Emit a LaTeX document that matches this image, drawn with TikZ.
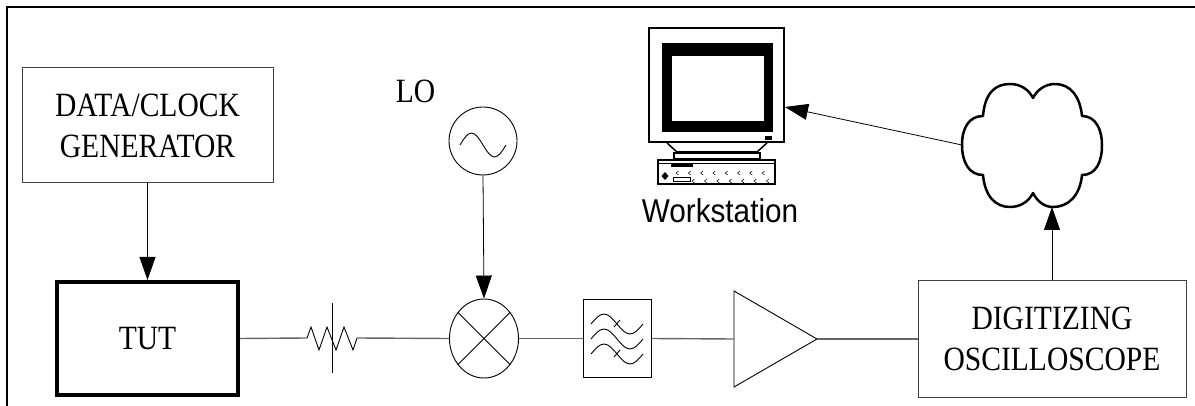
\documentclass[tikz,border=0pt]{standalone}
\usepackage{fontspec}
\setmainfont{Liberation Serif}[FakeStretch=0.87]
\newfontfamily\wsfont{Liberation Sans}[FakeStretch=0.9]
\usetikzlibrary{arrows.meta,shapes.geometric}

\newcommand\lblfont{\fontsize{34}{41}\selectfont}

\begin{document}
\begin{tikzpicture}[x=1pt,y=-1pt,
  box/.style={draw=black!75, line width=1pt, inner sep=0pt, align=center, font=\lblfont},
  wire/.style={draw=black!60, line width=1.4pt},
  part/.style={draw=black, line width=0.9pt},
  arr/.style={draw=black, line width=0.8pt, -{Triangle[length=23pt,width=16pt]}},
  cloudline/.style={draw=black, line width=2.5pt, line join=round}]
\useasboundingbox (0,0) rectangle (1195,406);

% outer frame (top and left edges only)
\draw[line width=2.5pt, line join=miter] (7,406) -- (7,7) -- (1195,7);

% signal source and device under test
\node[box, minimum width=251pt, minimum height=115pt] (gen) at (147.5,125.5) {DATA/CLOCK\\GENERATOR};
\node[box, draw=black, line width=4pt, minimum width=181pt, minimum height=113pt] (tut) at (147.5,338.5) {TUT};
\draw[arr] (gen.south) -- (tut.north);

% variable attenuator
\coordinate (res-in) at (307,338);
\coordinate (res-out) at (357,338);
\draw[part, line join=miter] (res-in) -- (311,327) -- (319,350) -- (327,327) -- (336,350)
  -- (344,327) -- (353,350) -- (res-out);
\draw[part] (332,303) -- (332,373);

% local oscillator and mixer
\node[anchor=base, font=\lblfont] (lolbl) at (415.5,103) {LO};
\node[circle, part, minimum size=68pt, inner sep=0pt] (lo) at (483,141) {};
\draw[part] (460,145) sin (471.5,133) cos (483,145) sin (494.5,157) cos (506,145);
\node[ellipse, part, minimum width=69pt, minimum height=79pt, inner sep=0pt] (mix) at (484,338.5) {};
\draw[part] (mix.45) -- (mix.225);
\draw[part] (mix.135) -- (mix.-45);
\draw[arr] (lo.south) -- (mix.north);

% band-pass filter
\node[draw=black, line width=1pt, minimum width=68pt, minimum height=77pt, inner sep=0pt] (flt) at (617,338.5) {};
\foreach \yy in {324,339,354}
  \draw[part] (591,\yy) sin (604,\yy-10) cos (617,\yy) sin (630,\yy+10) cos (643,\yy);
\draw[part] (614,327) -- (620,320);
\draw[part] (614,357) -- (620,350);

% amplifier
\coordinate (amp-in) at (734,339);
\coordinate (amp-out) at (817,339);
\draw[part, line join=miter] (734,291) -- (734,387) -- (817,339) -- cycle;

% digitizing oscilloscope
\node[box, minimum width=268pt, minimum height=116pt] (osc) at (1052,339) {DIGITIZING\\OSCILLOSCOPE};

% signal chain wiring
\draw[wire] (tut.east) -- (res-in);
\draw[wire] (res-out) -- (mix.west);
\draw[wire] (mix.east) -- (flt.west);
\draw[wire] (flt.east) -- (amp-in);
\draw[wire] (amp-out) -- (osc.west);

% network cloud
\coordinate (cloud-w) at (962,145);
\coordinate (cloud-s) at (1052,207);
\draw[cloudline]
  (983,116) .. controls (985,92) and (996,84) .. (1010,84)
            .. controls (1021,84) and (1029,90) .. (1033,98)
            .. controls (1037,90) and (1045,84) .. (1055,84)
            .. controls (1070,84) and (1080,96) .. (1082,116)
            .. controls (1096,116) and (1102,130) .. (1102,145)
            .. controls (1102,162) and (1096,175) .. (1082,175)
            .. controls (1080,196) and (1068,207) .. (1053,207)
            .. controls (1044,207) and (1037,201) .. (1033,193)
            .. controls (1029,201) and (1021,207) .. (1010,207)
            .. controls (996,207) and (985,197) .. (983,175)
            .. controls (969,175) and (962,162) .. (962,145)
            .. controls (962,128) and (969,116) .. (983,116) -- cycle;
\draw[arr] (osc.north) -- (cloud-s);

% workstation
\node[draw=black, line width=2pt, minimum width=135pt, minimum height=114pt, inner sep=0pt] (mon) at (716.5,85) {};
\fill[black] (662,43) rectangle (773,132);
\filldraw[fill=white, draw=black, line width=0.5pt] (671,55) rectangle (764,121);
\fill[black] (765,136) rectangle (772,140);
\draw[line width=1.5pt, line join=miter] (667,143) -- (677,152) -- (757,152) -- (767,143);
\draw[line width=1.5pt] (674,153) rectangle (760,159);
\draw[line width=1.8pt] (658,160) rectangle (775,184);
\draw[line width=0.6pt] (658,163.5) -- (775,163.5);
\fill[black] (671,164) rectangle (693,167);
\fill[black] (665,172) -- (668.5,176) -- (665,180) -- (661.5,176) -- cycle;
\draw[line width=0.6pt] (673,177.5) rectangle (690,181.5);
\foreach \xx in {677,689.3,701.6,713.9,726.2,738.5,750.8,763.1}
  \draw[line width=0.5pt] (\xx+1.5,171) -- (\xx-1,173) -- (\xx+1.5,175);
\foreach \xx in {693,705.4,717.8,730.2,742.6,755,767.4}
  \draw[line width=0.5pt] (\xx+1.5,179) -- (\xx-1,181) -- (\xx+1.5,183);
\node[anchor=base, font=\wsfont\fontsize{33}{38}\selectfont] (wslbl) at (720,223) {Workstation};
\coordinate (mon-in) at (785,107);
\draw[arr] (cloud-w) -- (mon-in);
\end{tikzpicture}
\end{document}
